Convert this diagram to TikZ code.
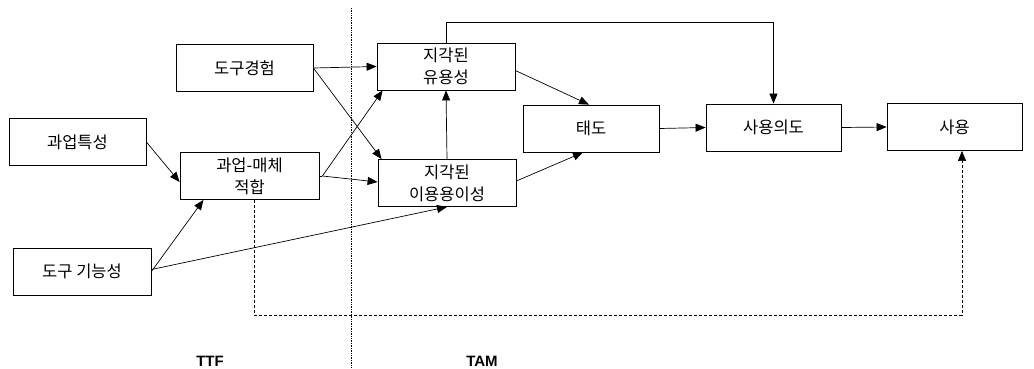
\documentclass[tikz,border=0pt]{standalone}
\usepackage{fontspec}
\setmainfont{Noto Sans CJK KR}
\newfontfamily\latinbold{Liberation Sans}
\usetikzlibrary{arrows.meta}
\begin{document}
\begin{tikzpicture}[x=1pt,y=-1pt,
  box/.style={draw,line width=0.8pt,minimum width=#1,minimum height=47pt,inner sep=0pt,align=center,font=\fontsize{16.5}{22}\selectfont},
  box/.default=137pt,
  arr/.style={line width=0.7pt,-{Triangle[length=10pt,width=8pt]}},
  lbl/.style={font=\latinbold\bfseries\fontsize{15}{17}\selectfont}]
\useasboundingbox (0,0) rectangle (1034,368);
\node[box] (exp) at (244.5,68) {도구경험};
\node[box] (task) at (77.5,142) {과업특성};
\node[box=139pt] (fit) at (249.5,176) {과업-매체\\적합};
\node[box=138pt] (func) at (82,271.5) {도구 기능성};
\node[box=138pt] (pu) at (446,66.5) {지각된\\유용성};
\node[box=138pt] (peou) at (447,183) {지각된\\이용용이성};
\node[box=136pt] (att) at (591,128.5) {태도};
\node[box=135pt] (bi) at (773.5,127.5) {사용의도};
\node[box=135pt] (use) at (954.5,127) {사용};
\coordinate (vtop) at (351,8);
\coordinate (vbot) at (351,368);
\draw[densely dotted,line width=0.7pt] (vtop) -- (vbot);
\node[lbl] (ttf) at (210,361) {TTF};
\node[lbl] (tam) at (482,361) {TAM};
% arrows
\draw[arr] (exp.east) -- (pu.west);
\draw[arr] (exp.east) -- ([xshift=4pt]peou.north west);
\draw[arr] (task.east) -- ([yshift=-6pt]fit.west);
\coordinate (fo) at ([xshift=3pt]fit.east);
\draw[line width=0.7pt] (fit.east) -- (fo);
\draw[arr] (fo) -- ([xshift=6pt]pu.south west);
\draw[arr] (fo) -- ([yshift=1pt]peou.west);
\draw[arr] (func.east) -- ([xshift=-46pt]fit.south);
\draw[arr] ([yshift=2pt]func.east) -- (peou.south);
\draw[arr] (peou.north) -- (pu.south);
\draw[arr] ([yshift=-4pt]pu.east) -- ([xshift=-2pt]att.north);
\draw[arr] ([yshift=2pt]peou.east) -- ([xshift=-8pt]att.south);
\draw[arr] (att.east) -- (bi.west);
\draw[arr] (bi.east) -- (use.west);
\draw[arr] (pu.north) -- ++(0,-20) -| (bi.north);
\draw[dash pattern=on 3pt off 2pt,line width=0.5pt,-{Triangle[length=10pt,width=8pt]}] ([xshift=5pt]fit.south) |- (962,315) -- ([xshift=7.5pt]use.south);
\end{tikzpicture}
\end{document}
